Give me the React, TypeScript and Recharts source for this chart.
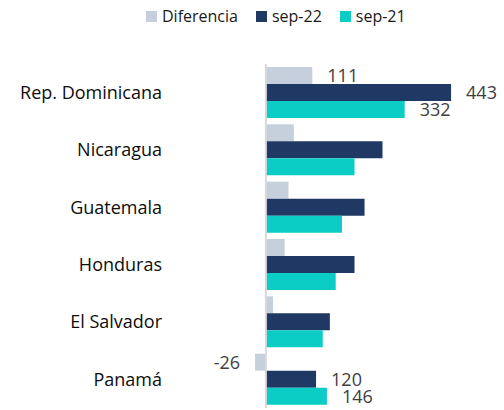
import React from 'react';
import { BarChart, Bar, XAxis, YAxis, ReferenceLine, LabelList } from 'recharts';

const categories = ['Rep. Dominicana', 'Nicaragua', 'Guatemala', 'Honduras', 'El Salvador', 'Panamá'];
const diferencia = [111, 67, 54, 45, 17, -26];
const sep22 = [443, 279, 236, 212, 153, 120];
const sep21 = [332, 212, 182, 167, 136, 146];
const labelledCategories = ['Rep. Dominicana', 'Panamá'];
const seriesKeys = ['dif', 's22', 's21'];
const seriesNames = ['Diferencia', 'sep-22', 'sep-21'];
const seriesColors = ['#C6D0DC', '#1F3864', '#0BCDC5'];

const data = categories.map((c, i) => ({
  category: c,
  dif: diferencia[i],
  s22: sep22[i],
  s21: sep21[i],
}));

const FONT = '"Open Sans", Lato, sans-serif';

const renderLabel = (props: any) => {
  const vb = props.viewBox ?? props;
  const x = Number(vb.x ?? props.x);
  const y = Number(vb.y ?? props.y);
  const width = Number(vb.width ?? props.width);
  const height = Number(vb.height ?? props.height);
  const { value, index } = props;
  if (!labelledCategories.includes(categories[index])) return null;
  const left = Math.min(x, x + width);
  const right = Math.max(x, x + width);
  const neg = Number(value) < 0;
  return (
    <text
      x={neg ? left - 15 : right + 15}
      y={y + height / 2}
      dy="0.36em"
      textAnchor={neg ? 'end' : 'start'}
      fill="#404040"
      fontSize={18}
      fontFamily={FONT}
    >
      {value}
    </text>
  );
};

export default function App() {
  return (
    <div style={{ position: 'absolute', left: 0, top: 0, width: 504, height: 410, background: '#fff' }}>
      <div
        style={{
          position: 'absolute',
          top: 5,
          left: 146,
          display: 'flex',
          alignItems: 'center',
          fontFamily: FONT,
          fontSize: 16,
          color: '#1a1a1a',
          height: 22,
          whiteSpace: 'nowrap',
        }}
      >
        {seriesNames.map((n, i) => (
          <div key={n} style={{ display: 'flex', alignItems: 'center', marginRight: i < seriesNames.length - 1 ? 18 : 0 }}>
            <span style={{ display: 'inline-block', width: 11, height: 11, background: seriesColors[i], marginRight: 5 }} />
            <span>{n}</span>
          </div>
        ))}
      </div>
      <BarChart
        width={504}
        height={410}
        data={data}
        layout="vertical"
        margin={{ top: 64, right: 50, bottom: 2, left: 0 }}
        barGap={0}
        barSize={17}
      >
        <XAxis type="number" domain={[-50, 450]} hide />
        <YAxis
          type="category"
          dataKey="category"
          width={245}
          axisLine={false}
          tickLine={false}
          tickSize={0}
          tickMargin={83}
          interval={0}
          tick={{ fill: '#0d0d0d', fontSize: 18, fontFamily: FONT }}
        />
        {seriesKeys.map((k, i) => (
          <Bar key={k} dataKey={k} name={seriesNames[i]} fill={seriesColors[i]} isAnimationActive={false}>
            <LabelList dataKey={k} content={renderLabel} />
          </Bar>
        ))}
        <ReferenceLine x={0} stroke="#D9D9D9" strokeWidth={2} />
      </BarChart>
    </div>
  );
}
